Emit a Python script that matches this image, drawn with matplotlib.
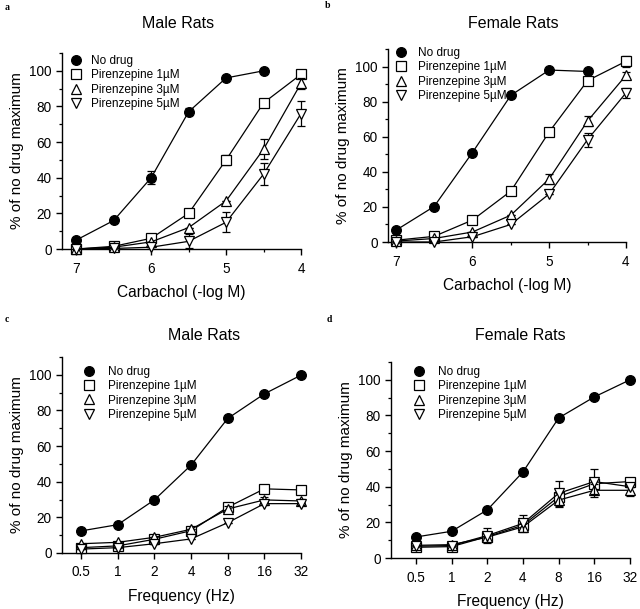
import numpy as np
import matplotlib
matplotlib.use("Agg")
import matplotlib.pyplot as plt
from matplotlib.lines import Line2D
from matplotlib.ticker import MultipleLocator

plt.rcParams['font.family'] = ['Liberation Sans', 'DejaVu Sans']

# ── data ────────────────────────────────────────────────
labels = ["No drug", "Pirenzepine 1µM", "Pirenzepine 3µM", "Pirenzepine 5µM"]

# carbachol concentrations (-log M)
carb = [7, 6.5, 6, 5.5, 5, 4.5, 4]
freq = [0.5, 1, 2, 4, 8, 16, 32]

# panel a  (male, carbachol)
a_nodrug = [5, 16, 40, 77, 96, 100]
a_pz1 = [0, 1.5, 6, 20, 50, 82, 98]
a_pz3 = [0, 1, 4, 12, 27, 56, 93]
a_pz5 = [0, 0.3, 1, 4.3, 15, 42, 76]
a_err_nodrug = [0, 0, 3.5, 2, 0, 0]
a_err_pz1 = [0, 0, 0, 0, 3, 2, 0]
a_err_pz3 = [0, 0, 0, 0, 0, 5.5, 3]
a_err_pz5 = [0, 0, 0, 4, 5.5, 6.3, 7]

# panel b  (female, carbachol)
b_nodrug = [6.6, 20.2, 51, 83.6, 98, 97.2]
b_pz1 = [1, 3.2, 12.5, 29, 62.8, 92, 103]
b_pz3 = [0.5, 2, 5.7, 15.3, 36, 69, 95]
b_pz5 = [0, 0, 3, 10, 27.4, 58.4, 85]
b_err_nodrug = [0, 0, 0, 0, 0, 0]
b_err_pz1 = [0, 0, 0, 0, 0, 0, 3]
b_err_pz3 = [0, 0, 0, 0, 3, 3, 2]
b_err_pz5 = [0, 0, 0, 0, 0, 4, 3]

# panel c  (male, frequency)
c_nodrug = [12.4, 15.9, 29.8, 49.3, 75.5, 89.3, 99.8]
c_pz1 = [3, 4, 7.7, 12.5, 25.7, 36, 35.4]
c_pz3 = [5.2, 6, 8.8, 13.3, 24.7, 29.8, 29.2]
c_pz5 = [2.2, 3, 5.2, 7.9, 17, 27.7, 27.7]
c_err_nodrug = [0, 0, 0, 0, 0, 0, 0]
c_err_pz1 = [0, 0, 0, 1.5, 1.5, 1.5, 1.5]
c_err_pz3 = [0, 0, 0, 0, 1.5, 1.5, 1]
c_err_pz5 = [0, 0, 0, 0, 0, 1, 1]

# panel d  (female, frequency)
d_nodrug = [11.8, 15, 27, 48.3, 78.6, 90.4, 100]
d_pz1 = [6, 6.4, 12, 18.4, 34.4, 41.7, 42.9]
d_pz3 = [7.1, 7.5, 11.7, 17.5, 32.5, 38, 38]
d_pz5 = [6.6, 7, 12.6, 19.4, 36.3, 42.9, 40]
d_err_nodrug = [0, 0, 0, 0, 0, 0, 0]
d_err_pz1 = [0, 0, 0, 0, 0, 0, 0]
d_err_pz3 = [0, 0, 2, 2, 4, 3.5, 3]
d_err_pz5 = [0, 0, 4, 5, 7, 7, 0]

markers = ['o', 's', '^', 'v']
faces = ['black', 'white', 'white', 'white']
msizes = [7, 7, 7.5, 7.5]


def draw_panel(ax, x, series, errs):
    for i, (y, e) in enumerate(zip(series, errs)):
        xx = x[:len(y)]
        ax.errorbar(xx, y, yerr=e, color='black', lw=0.9, marker=markers[i],
                    ms=msizes[i], mfc=faces[i], mec='black', mew=0.9,
                    capsize=3, elinewidth=0.9, capthick=0.9,
                    zorder=3 + i, clip_on=False)
    ax.set_ylim(0, 110)
    ax.yaxis.set_major_locator(MultipleLocator(20))
    ax.yaxis.set_minor_locator(MultipleLocator(10))
    ax.spines['top'].set_visible(False)
    ax.spines['right'].set_visible(False)
    for s in ('left', 'bottom'):
        ax.spines[s].set_linewidth(1.0)
    ax.tick_params(which='major', direction='out', length=4, width=1.0,
                   labelsize=9.8)
    ax.tick_params(axis='x', which='major', pad=5)
    ax.tick_params(which='minor', direction='out', length=2.5, width=0.9)
    ax.set_ylabel("% of no drug maximum", fontsize=11, labelpad=4)


fig = plt.figure(figsize=(6.4, 6.09), dpi=100)
W, H = 640, 609


def add_ax(l, t, r, b):
    return fig.add_axes([l / W, 1 - b / H, (r - l) / W, (b - t) / H])


axa = add_ax(62, 53, 301, 249)
axb = add_ax(388, 49, 626, 242)
axc = add_ax(62, 357, 301, 553)
axd = add_ax(391, 362, 630, 558)

draw_panel(axa, carb, [a_nodrug, a_pz1, a_pz3, a_pz5],
           [a_err_nodrug, a_err_pz1, a_err_pz3, a_err_pz5])
draw_panel(axb, carb, [b_nodrug, b_pz1, b_pz3, b_pz5],
           [b_err_nodrug, b_err_pz1, b_err_pz3, b_err_pz5])
draw_panel(axc, freq, [c_nodrug, c_pz1, c_pz3, c_pz5],
           [c_err_nodrug, c_err_pz1, c_err_pz3, c_err_pz5])
draw_panel(axd, freq, [d_nodrug, d_pz1, d_pz3, d_pz5],
           [d_err_nodrug, d_err_pz1, d_err_pz3, d_err_pz5])

# carbachol axes
axa.set_xlim(7.19, 4)
axb.set_xlim(7.1, 4)
for ax in (axa, axb):
    ax.set_xticks([7, 6, 5, 4])
    ax.xaxis.set_minor_locator(MultipleLocator(0.5))
    ax.set_xlabel("Carbachol (-log M)", fontsize=11.2, labelpad=7)

# frequency axes
axc.set_xscale('log', base=2)
axd.set_xscale('log', base=2)
axc.set_xlim(0.5 * 2 ** -0.52, 32)
axd.set_xlim(0.5 * 2 ** -0.7, 32)
for ax in (axc, axd):
    ax.set_xticks(freq)
    ax.set_xticklabels(["0.5", "1", "2", "4", "8", "16", "32"])
    ax.xaxis.set_minor_locator(plt.NullLocator())
    ax.set_xlabel("Frequency (Hz)", fontsize=11.2, labelpad=7)

# legends
handles = [Line2D([], [], ls='none', marker=markers[i], ms=msizes[i],
                  mfc=faces[i], mec='black', mew=0.9) for i in range(4)]
leg_pos = {axa: (0.033, 0.99, 0.75), axb: (0.03, 1.01, 0.9),
           axc: (0.088, 0.955, 1.1), axd: (0.092, 0.98, 1.1)}
for ax, (lx, ly, pad) in leg_pos.items():
    ax.legend(handles, labels, loc='upper left', bbox_to_anchor=(lx, ly),
              frameon=False, fontsize=8.5, handlelength=1.0,
              handletextpad=pad, labelspacing=0.2, borderpad=0,
              borderaxespad=0)

# titles and panel letters
fig.text(178 / W, 1 - 23 / H, "Male Rats", ha='center', va='center', fontsize=11.5)
fig.text(513 / W, 1 - 23 / H, "Female Rats", ha='center', va='center', fontsize=11.5)
fig.text(204 / W, 1 - 335 / H, "Male Rats", ha='center', va='center', fontsize=11.5)
fig.text(520 / W, 1 - 336 / H, "Female Rats", ha='center', va='center', fontsize=11.5)
for (px, py, s) in [(5, 7, 'a'), (325, 5, 'b'), (5, 319, 'c'), (327, 320, 'd')]:
    fig.text(px / W, 1 - py / H, s, ha='left', va='center', fontsize=7,
             fontweight='bold', family=['Liberation Serif', 'DejaVu Serif'])

fig.savefig("out.png", dpi=100)
